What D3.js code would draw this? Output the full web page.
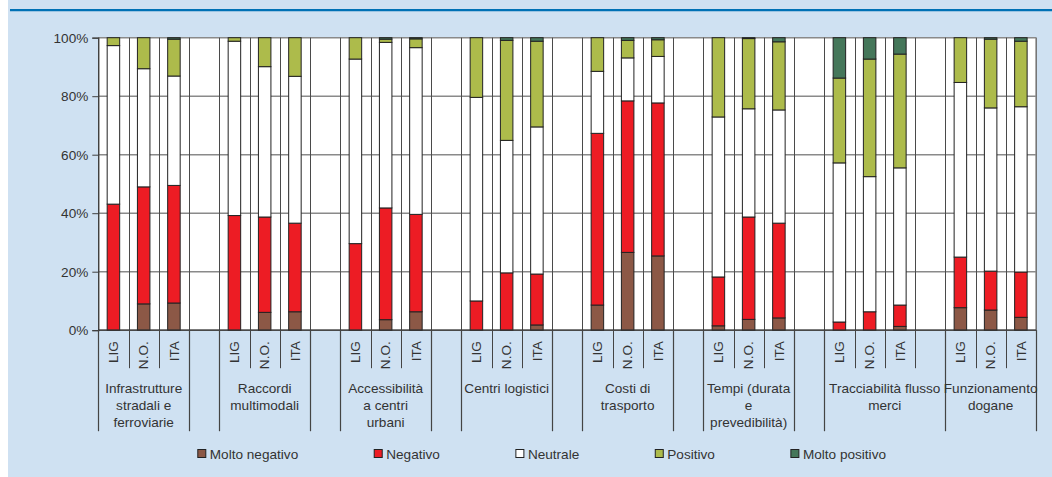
<!DOCTYPE html>
<html>
<head>
<meta charset="utf-8">
<script src="https://cdn.jsdelivr.net/npm/d3@7"></script>
<style>
  html, body { margin: 0; padding: 0; background: #ffffff; }
  svg { display: block; }
  text { font-family: "Liberation Sans", Arial, sans-serif; fill: #333333; }
</style>
</head>
<body>
<svg id="chart" width="1052" height="477"></svg>
<script>
// Thematic groups (multi-line labels) and the three areas compared in each
const groupLabels = [
  ["Infrastrutture", "stradali e", "ferroviarie"],
  ["Raccordi", "multimodali"],
  ["Accessibilità", "a centri", "urbani"],
  ["Centri logistici"],
  ["Costi di", "trasporto"],
  ["Tempi (durata", "e", "prevedibilità)"],
  ["Tracciabilità flusso", "merci"],
  ["Funzionamento", "dogane"]
];
const areas = ["LIG", "N.O.", "ITA"];

// Share of answers (%), one value per bar: group by group, LIG / N.O. / ITA
const moltoNegativo = [
  0.0, 9.0, 9.3,   0.0, 6.1, 6.3,   0.0, 3.6, 6.3,   0.0, 0.0, 1.8,
  8.6, 26.6, 25.4, 1.5, 3.7, 4.2,   0.0, 0.0, 1.3,   7.7, 6.9, 4.4
];
const negativo = [
  43.1, 40.0, 40.2, 39.2, 32.6, 30.3, 29.6, 38.2, 33.3, 10.0, 19.6, 17.4,
  58.7, 51.8, 52.3, 16.7, 35.0, 32.4,  2.8,  6.3,  7.3, 17.3, 13.3, 15.5
];
const neutrale = [
  54.2, 40.4, 37.4, 59.6, 51.4, 50.2, 63.1, 56.6, 57.0, 69.6, 45.3, 50.3,
  21.2, 14.7, 15.9, 54.7, 37.0, 38.7, 54.4, 46.2, 46.9, 59.7, 55.8, 56.5
];
const positivo = [
   2.7, 10.6, 12.6,  1.2,  9.9, 13.2,  7.3,  1.1,  3.0, 20.4, 34.2, 29.3,
  11.5,  6.0,  5.7, 27.1, 24.0, 23.3, 29.0, 40.2, 38.9, 15.3, 23.5, 22.4
];
const moltoPositivo = [
  0.0, 0.0, 0.5,   0.0, 0.0, 0.0,   0.0, 0.5, 0.4,   0.0, 0.9, 1.2,
  0.0, 0.9, 0.7,   0.0, 0.3, 1.4,  13.8, 7.3, 5.6,   0.0, 0.5, 1.2
];

const seriesNames = ["Molto negativo", "Negativo", "Neutrale", "Positivo", "Molto positivo"];
const yTickValues = [0, 20, 40, 60, 80, 100];

// ---- styles ----
const seriesColors = ["#8c5846", "#ed1c24", "#ffffff", "#adbb4b", "#45775a"];
const panelColor = "#cfe1f2";
const fontSize = "13.6px";

// ---- layout ----
const W = 1052, H = 477;
const plot = { left: 98.3, right: 1036, top: 37.7, bottom: 330.2 };

const svg = d3.select("#chart");

// panel background and blue top rule
svg.append("rect").attr("x", 8).attr("y", 0).attr("width", W - 8).attr("height", H)
  .attr("fill", panelColor);
svg.append("line").attr("x1", 10).attr("x2", W).attr("y1", 10.2).attr("y2", 10.2)
  .attr("stroke", "#0071b5").attr("stroke-width", 2.2);

// category slots: three areas per group plus an empty spacer slot between groups
const slots = [];
groupLabels.forEach((g, gi) => {
  areas.forEach((a, ai) => slots.push({ key: gi + "-" + ai, group: gi, area: a, bar: gi * 3 + ai }));
  if (gi < groupLabels.length - 1) slots.push({ key: gi + "-gap", group: gi, area: "", bar: null });
});

const x = d3.scaleBand().domain(slots.map(s => s.key)).range([plot.left, plot.right]).padding(0);
const y = d3.scaleLinear().domain([0, 100]).range([plot.bottom, plot.top]);
const bw = x.bandwidth();

// plot area
svg.append("rect").attr("x", plot.left).attr("y", plot.top)
  .attr("width", plot.right - plot.left).attr("height", plot.bottom - plot.top)
  .attr("fill", "#ffffff");

// horizontal gridlines
svg.append("g").selectAll("line").data(yTickValues).join("line")
  .attr("x1", plot.left).attr("x2", plot.right)
  .attr("y1", d => y(d)).attr("y2", d => y(d))
  .attr("stroke", "#8a8a8a").attr("stroke-width", 1.4);

// vertical gridlines at every slot boundary
const boundaries = slots.map(s => x(s.key)).concat([plot.right]);
svg.append("g").selectAll("line").data(boundaries).join("line")
  .attr("x1", d => Math.round(d) + 0.5).attr("x2", d => Math.round(d) + 0.5)
  .attr("y1", plot.top).attr("y2", plot.bottom)
  .attr("stroke", "#4a4a4a").attr("stroke-width", 1);
svg.append("line").attr("x1", plot.right).attr("x2", plot.right)
  .attr("y1", plot.top).attr("y2", plot.bottom).attr("stroke", "#8a8a8a").attr("stroke-width", 1.4);

// stacked bars
const rows = slots.filter(s => s.bar !== null).map(s => ({
  key: s.key,
  "Molto negativo": moltoNegativo[s.bar],
  "Negativo": negativo[s.bar],
  "Neutrale": neutrale[s.bar],
  "Positivo": positivo[s.bar],
  "Molto positivo": moltoPositivo[s.bar]
}));
const stacked = d3.stack().keys(seriesNames)(rows);
const barW = 12.5;

svg.append("g").selectAll("g").data(stacked).join("g")
  .attr("fill", (d, i) => seriesColors[i])
  .selectAll("rect").data(d => d.filter(p => p[1] - p[0] > 0)).join("rect")
  .attr("x", d => x(d.data.key) + bw / 2 - barW / 2)
  .attr("width", barW)
  .attr("y", d => y(d[1]))
  .attr("height", d => y(d[0]) - y(d[1]))
  .attr("stroke", "#222222").attr("stroke-width", 1);

// value axis
const yAxis = d3.axisLeft(y).tickValues(yTickValues).tickFormat(d => d + "%").tickSize(6).tickPadding(4);
const gy = svg.append("g").attr("transform", `translate(${plot.left},0)`).call(yAxis);
gy.select(".domain").attr("stroke", "#404040").attr("stroke-width", 1.3);
gy.selectAll(".tick line").attr("stroke", "#404040");
gy.selectAll(".tick text").style("font-size", fontSize).attr("fill", "#333333")
  .style("font-family", '"Liberation Sans", Arial, sans-serif');

// category axis: inner row (areas, rotated)
const innerH = 38, outerH = 101;
svg.append("line").attr("x1", plot.left).attr("x2", plot.right)
  .attr("y1", plot.bottom).attr("y2", plot.bottom).attr("stroke", "#333333").attr("stroke-width", 1.3);
svg.append("g").selectAll("line").data(boundaries).join("line")
  .attr("x1", d => Math.round(d) + 0.5).attr("x2", d => Math.round(d) + 0.5)
  .attr("y1", plot.bottom).attr("y2", plot.bottom + innerH)
  .attr("stroke", "#444444").attr("stroke-width", 1);

svg.append("g").selectAll("text").data(slots.filter(s => s.area)).join("text")
  .attr("transform", s => `translate(${x(s.key) + bw / 2},${plot.bottom + 11}) rotate(-90)`)
  .attr("text-anchor", "end").attr("dy", "0.35em")
  .style("font-size", fontSize)
  .text(s => s.area);

// category axis: outer row (group labels); the Tracciabilità label spans its spacer slot
const groupSpan = groupLabels.map(g => (g[0].startsWith("Tracciabilità") ? 4 : 3));
const groupCells = groupLabels.map((g, gi) => {
  const x0 = x(gi + "-0");
  return { lines: g, x0, x1: x0 + groupSpan[gi] * bw };
});
const outerEdges = Array.from(new Set(groupCells.flatMap(c => [c.x0, c.x1]).map(v => Math.round(v))));
svg.append("g").selectAll("line").data(outerEdges).join("line")
  .attr("x1", d => d + 0.5).attr("x2", d => d + 0.5)
  .attr("y1", plot.bottom).attr("y2", plot.bottom + outerH)
  .attr("stroke", "#444444").attr("stroke-width", 1.2);

const gl = svg.append("g").selectAll("text").data(groupCells).join("text")
  .attr("text-anchor", "middle")
  .style("font-size", fontSize);
gl.selectAll("tspan").data(c => c.lines.map(l => ({ l, cx: (c.x0 + c.x1) / 2 }))).join("tspan")
  .attr("x", d => d.cx)
  .attr("y", (d, i) => plot.bottom + 58 + i * 17)
  .attr("dy", "0.35em")
  .text(d => d.l);

// legend
const legend = svg.append("g");
let lx = 197.8;
const ly = 454;
seriesNames.forEach((name, i) => {
  legend.append("rect").attr("x", lx).attr("y", ly - 4.5).attr("width", 8).attr("height", 8)
    .attr("fill", seriesColors[i]).attr("stroke", "#222222").attr("stroke-width", 1);
  const t = legend.append("text").attr("x", lx + 12).attr("y", ly).attr("dy", "0.35em")
    .style("font-size", fontSize).text(name);
  lx = lx + 12 + t.node().getComputedTextLength() + 76;
});
</script>
</body>
</html>
